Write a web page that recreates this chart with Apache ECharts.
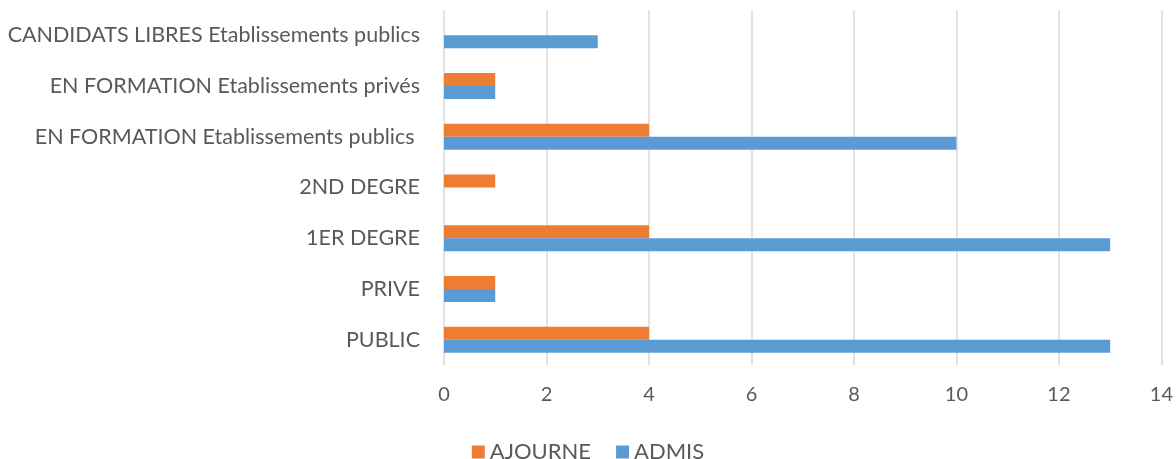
<!DOCTYPE html>
<html>
<head>
<meta charset="utf-8">
<script src="https://cdn.jsdelivr.net/npm/echarts@6/dist/echarts.min.js"></script>
<style>
  html, body { margin: 0; padding: 0; background: #fff; }
  #main { width: 1176px; height: 459px; }
</style>
</head>
<body>
<div id="main"></div>
<script>
const categories = [
  'PUBLIC',
  'PRIVE',
  '1ER DEGRE',
  '2ND DEGRE',
  'EN FORMATION Etablissements publics ',
  'EN FORMATION Etablissements privés',
  'CANDIDATS LIBRES Etablissements publics'
]
const ajourne = [4, 1, 4, 1, 4, 1, null]
const admis = [13, 1, 13, null, 10, 1, 3]
const xTicks = { min: 0, max: 14, interval: 2 }

const textColor = '#595959'
const fontFamily = 'Lato, "Open Sans", sans-serif'

const chart = echarts.init(document.getElementById('main'))
const option = {
  animation: false,
  textStyle: { fontFamily: fontFamily },
  grid: { left: 444, right: 14, top: 10, bottom: 94 },
  legend: {
    top: 436,
    left: 'center',
    itemWidth: 13,
    itemHeight: 13,
    itemGap: 25,
    icon: 'rect',
    textStyle: { color: textColor, fontSize: 22, fontFamily: fontFamily },
    data: ['AJOURNE', 'ADMIS']
  },
  xAxis: {
    type: 'value',
    min: xTicks.min,
    max: xTicks.max,
    interval: xTicks.interval,
    axisLine: { show: false },
    axisTick: { show: false },
    axisLabel: { color: textColor, fontSize: 20, margin: 20 },
    splitLine: { lineStyle: { color: '#d9d9d9', width: 1.5 } }
  },
  yAxis: {
    type: 'category',
    data: categories,
    axisLine: { show: false },
    axisTick: { show: false },
    axisLabel: { color: textColor, fontSize: 21.5, margin: 24 }
  },
  series: [
    {
      name: 'AJOURNE',
      type: 'bar',
      data: ajourne,
      barWidth: 13,
      barGap: '0%',
      itemStyle: { color: '#ED7D31' }
    },
    {
      name: 'ADMIS',
      type: 'bar',
      data: admis,
      barWidth: 13,
      barGap: '0%',
      itemStyle: { color: '#5B9BD5' }
    }
  ]
}
chart.setOption(option)
</script>
</body>
</html>
